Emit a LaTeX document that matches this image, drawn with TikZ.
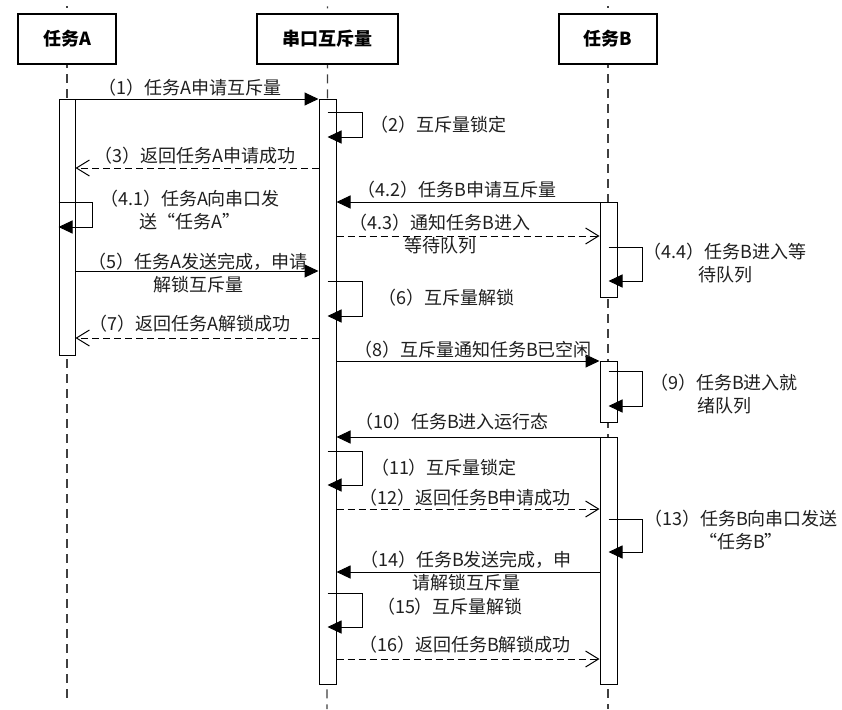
\documentclass[tikz,border=0pt]{standalone}
\usepackage{fontspec}
\setmainfont{Noto Sans CJK SC}
\usetikzlibrary{arrows.meta,backgrounds}
\begin{document}
\begin{tikzpicture}[x=1pt,y=-1pt,
  head/.style={draw, line width=1.2pt, fill=white, minimum height=50pt, inner sep=0pt,
    font=\bfseries\fontsize{18}{22}\selectfont},
  bar/.style={draw, line width=1pt, fill=white, minimum width=17pt, inner sep=0pt},
  life/.style={draw=black!75, line width=1.3pt, dash pattern=on 9pt off 6pt, dash phase=7pt},
  msg/.style={line width=1pt, -{Triangle[length=14pt,width=13pt]}},
  ret/.style={line width=1pt, dash pattern=on 7pt off 4pt, -{Straight Barb[length=13pt,width=16pt,line width=1pt]}},
  lbl/.style={font=\fontsize{18}{23}\selectfont, align=center, inner sep=0pt, text=black!88}]
\useasboundingbox (0,0) rectangle (842,709);

% heads
\node[head, minimum width=98pt] (hA) at (67,39) {任务A};
\node[head, minimum width=141pt] (hM) at (327.5,39) {串口互斥量};
\node[head, minimum width=98pt] (hB) at (608,39) {任务B};

% lifeline ends
\coordinate (eA) at (67,703);
\coordinate (eM) at (327,709);
\coordinate (eB) at (608,709);

% lifelines (behind)
\begin{scope}[on background layer]
\fill[white] (0,0) rectangle (842,709);
\draw[life] ([yshift=7pt]hA.north) -- (eA);
\draw[life] ([yshift=7pt]hM.north) -- (eM);
\draw[life] ([yshift=7pt]hB.north) -- (eB);
\end{scope}

% activation bars
\node[bar, minimum width=16pt, minimum height=256pt] (barA) at (67,227) {};
\node[bar, minimum height=585pt] (barM) at (327.5,391.5) {};
\node[bar, minimum height=95pt] (barB1) at (608.5,249.5) {};
\node[bar, minimum height=61pt] (barB2) at (608.5,391.5) {};
\node[bar, minimum height=247pt] (barB3) at (608.5,560.5) {};

% messages
\draw[msg] (barA.east |- 0,99) -- (barM.west |- 0,99);
\draw[msg] (barM.center |- 0,112) -- ++(35,0) |- (barM.center |- 0,137);
\draw[ret] (barM.west |- 0,168) -- (barA.east |- 0,168);
\draw[msg] (barA.west |- 0,202) -- ++(34,0) |- (barA.west |- 0,227);
\draw[msg] (barB1.west |- 0,202) -- (barM.east |- 0,202);
\draw[ret] (barM.east |- 0,236) -- (barB1.west |- 0,236);
\draw[msg] (barB1.center |- 0,247) -- ++(34,0) |- (barB1.center |- 0,281);
\draw[msg] (barA.east |- 0,271) -- (barM.west |- 0,271);
\draw[msg] (barM.center |- 0,281) -- ++(35,0) |- (barM.center |- 0,316);
\draw[ret] (barM.west |- 0,338) -- (barA.east |- 0,338);
\draw[msg] (barM.east |- 0,361) -- (barB2.west |- 0,361);
\draw[msg] (barB2.center |- 0,371) -- ++(34,0) |- (barB2.center |- 0,406);
\draw[msg] (barB3.west |- 0,437) -- (barM.east |- 0,437);
\draw[msg] (barM.center |- 0,451) -- ++(35,0) |- (barM.center |- 0,485);
\draw[ret] (barM.east |- 0,509) -- (barB3.west |- 0,509);
\draw[msg] (barB3.center |- 0,519) -- ++(34,0) |- (barB3.center |- 0,552);
\draw[msg] (barB3.west |- 0,572) -- (barM.east |- 0,572);
\draw[msg] (barM.center |- 0,593) -- ++(35,0) |- (barM.center |- 0,627);
\draw[ret] (barM.east |- 0,659) -- (barB3.west |- 0,659);

% labels
\node[lbl] (l1) at (190,88) {（1）任务A申请互斥量};
\node[lbl] (l2) at (438,125) {（2）互斥量锁定};
\node[lbl] (l3) at (195,156) {（3）返回任务A申请成功};
\node[lbl] (l41) at (190,210.5) {（4.1）任务A向串口发\\送“任务A”};
\node[lbl] (l42) at (457,190) {（4.2）任务B申请互斥量};
\node[lbl] (l43) at (440,234) {（4.3）通知任务B进入\\等待队列};
\node[lbl] (l44) at (725,263.5) {（4.4）任务B进入等\\待队列};
\node[lbl] (l5) at (198,273) {（5）任务A发送完成，申请\\解锁互斥量};
\node[lbl] (l6) at (446,298) {（6）互斥量解锁};
\node[lbl] (l7) at (190,324) {（7）返回任务A解锁成功};
\node[lbl] (l8) at (473,350) {（8）互斥量通知任务B已空闲};
\node[lbl] (l9) at (724,394) {（9）任务B进入就\\绪队列};
\node[lbl] (l10) at (452,422) {（10）任务B进入运行态};
\node[lbl] (l11) at (444,468) {（11）互斥量锁定};
\node[lbl] (l12) at (465,498) {（12）返回任务B申请成功};
\node[lbl] (l13) at (741,530.5) {（13）任务B向串口发送\\“任务B”};
\node[lbl] (l14) at (466,571.5) {（14）任务B发送完成，申\\请解锁互斥量};
\node[lbl] (l15) at (450,607) {（15）互斥量解锁};
\node[lbl] (l16) at (465,645) {（16）返回任务B解锁成功};
\end{tikzpicture}
\end{document}
